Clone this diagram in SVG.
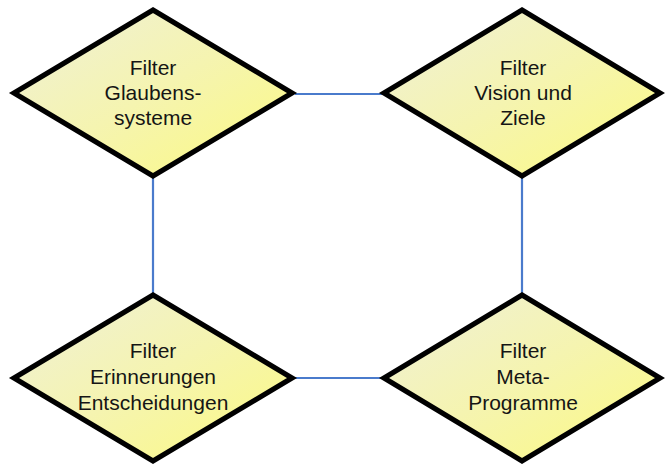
<svg xmlns="http://www.w3.org/2000/svg" width="665" height="465" viewBox="0 0 665 465">
  <defs>
    <linearGradient id="fillGrad" x1="0" y1="0" x2="1" y2="1">
      <stop offset="0" stop-color="#eff0d8"/>
      <stop offset="0.5" stop-color="#f5f4b0"/>
      <stop offset="1" stop-color="#fcfa80"/>
    </linearGradient>
    <style>
      .diamond { fill: url(#fillGrad); stroke: #000; stroke-width: 5.2; stroke-linejoin: miter; stroke-miterlimit: 10; }
      .label { font-family: "Liberation Sans", Arial, sans-serif; font-size: 21px; fill: #151515; text-anchor: middle; }
      .link { stroke: #4a7bcc; stroke-width: 2.2; fill: none; }
    </style>
  </defs>
  <rect width="665" height="465" fill="#ffffff"/>

  <g id="connectors">
    <line class="link" x1="295" y1="94" x2="383" y2="94"/>
    <line class="link" x1="153" y1="176" x2="153" y2="295"/>
    <line class="link" x1="522" y1="176" x2="522" y2="295"/>
    <line class="link" x1="295" y1="378" x2="383" y2="378"/>
  </g>

  <g id="node-glaubenssysteme">
    <polygon class="diamond" points="153,10 292,93 153,176 14,93"/>
    <text class="label" x="153" y="75">Filter</text>
    <text class="label" x="153" y="100">Glaubens-</text>
    <text class="label" x="153" y="125">systeme</text>
  </g>

  <g id="node-vision-ziele">
    <polygon class="diamond" points="522,10 660,93 522,176 384,93"/>
    <text class="label" x="523" y="75">Filter</text>
    <text class="label" x="523" y="100">Vision und</text>
    <text class="label" x="523" y="125">Ziele</text>
  </g>

  <g id="node-erinnerungen">
    <polygon class="diamond" points="153,295 292,378 153,461 14,378"/>
    <text class="label" x="153" y="358">Filter</text>
    <text class="label" x="153" y="384">Erinnerungen</text>
    <text class="label" x="153" y="410">Entscheidungen</text>
  </g>

  <g id="node-meta-programme">
    <polygon class="diamond" points="522,295 660,378 522,461 384,378"/>
    <text class="label" x="523" y="358">Filter</text>
    <text class="label" x="523" y="384">Meta-</text>
    <text class="label" x="523" y="410">Programme</text>
  </g>
</svg>
